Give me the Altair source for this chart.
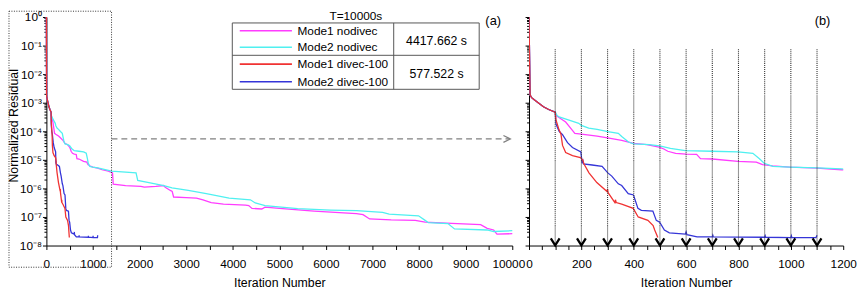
import json
import altair as alt
import pandas as pd

FONT = "Liberation Sans"

# ---------------- data ----------------
SERIES = ["Mode1 nodivec", "Mode2 nodivec", "Mode1 divec-100", "Mode2 divec-100"]
COLORS = ["#ff3cff", "#4ff0f0", "#f03232", "#3535d8"]
TIMES = ["4417.662 s", "577.522 s"]
LEGEND_TITLE = "T=10000s"
PANEL_TAGS = ["(a)", "(b)"]
X_TITLE = "Iteration Number"
Y_TITLE = "Normalized Residual"

# common start of all four runs
common_it = [0, 4, 10, 20, 35, 55, 75, 100]
common_res = [1.0, 1.9e-3, 1.5e-3, 1.26e-3, 1.0e-3, 7.2e-4, 5.8e-4, 4.7e-4]

m1_nodivec_it = [105, 120, 140, 165, 175, 200, 260, 300, 354, 399,
                 450, 497, 515, 530, 560, 600, 640, 655, 700, 798,
                 868, 892, 930, 996, 1100, 1194, 1330, 1420, 1434, 1700,
                 2029, 2100, 2350, 2517, 2550, 2660, 2700, 2730, 3000, 3221,
                 3361, 3537, 3800, 4273, 4343, 4413, 4623, 4693, 5000, 5745,
                 6200, 6656, 6797, 6937, 7400, 7918, 8129, 8700, 9321, 9461,
                 9600, 9671, 10000]
m1_nodivec_res = [3.5e-4, 2.8e-4, 2.1e-4, 1.1e-4, 8.5e-5, 7.9e-5, 6.8e-5, 5.9e-5, 4.8e-5, 3.8e-5,
                  3.4e-5, 2.8e-5, 2.4e-5, 2.0e-5, 1.7e-5, 1.6e-5, 1.55e-5, 1.1e-5, 1.07e-5, 8.9e-6,
                  8.3e-6, 6.8e-6, 6.2e-6, 5.6e-6, 5.1e-6, 4.5e-6, 4.0e-6, 3.5e-6, 1.4e-6, 1.26e-6,
                  1.17e-6, 1.1e-6, 1.17e-6, 1.26e-6, 1.1e-6, 8.5e-7, 7.9e-7, 5.0e-7, 4.8e-7, 4.6e-7,
                  4.0e-7, 3.2e-7, 2.8e-7, 2.6e-7, 2.5e-7, 2.0e-7, 1.9e-7, 2.2e-7, 2.0e-7, 1.6e-7,
                  1.45e-7, 1.3e-7, 1.2e-7, 8.5e-8, 7.9e-8, 7.6e-8, 6.6e-8, 6.0e-8, 5.4e-8, 4.0e-8,
                  3.5e-8, 2.5e-8, 2.6e-8]

m2_nodivec_it = [108, 115, 150, 190, 200, 228, 260, 301, 341, 354,
                 380, 399, 460, 499, 540, 597, 697, 798, 855, 880,
                 898, 931, 996, 1100, 1194, 1398, 1924, 1960, 2200, 2520,
                 2696, 3045, 3432, 3922, 4378, 4483, 4693, 5394, 6095, 6656,
                 7217, 7357, 7988, 8129, 8199, 8619, 8760, 9461, 9601, 10000]
m2_nodivec_res = [3.5e-4, 3.2e-4, 2.5e-4, 1.9e-4, 1.6e-4, 1.3e-4, 1.17e-4, 9.8e-5, 8.5e-5, 6.6e-5,
                  4.2e-5, 3.6e-5, 3.4e-5, 3.1e-5, 2.5e-5, 2.1e-5, 2.0e-5, 1.9e-5, 1.7e-5, 1.1e-5,
                  7.6e-6, 5.9e-6, 5.6e-6, 5.2e-6, 4.8e-6, 4.0e-6, 3.5e-6, 1.9e-6, 1.6e-6, 1.26e-6,
                  1.05e-6, 8.5e-7, 6.6e-7, 4.6e-7, 4.0e-7, 3.1e-7, 2.5e-7, 1.95e-7, 1.74e-7, 1.66e-7,
                  1.45e-7, 1.26e-7, 1.1e-7, 7.6e-8, 6.3e-8, 5.9e-8, 3.8e-8, 3.5e-8, 3.1e-8, 3.3e-8]

m1_divec_it = [103, 115, 122, 128, 140, 166, 196, 205, 210, 229,
               259, 297, 300, 302, 328, 330, 333, 354, 398, 417,
               454, 474, 480, 492]
m1_divec_res = [2.5e-4, 1.1e-4, 7.9e-5, 3.2e-5, 1.8e-5, 1.4e-5, 1.2e-5, 1.0e-5, 7.1e-6, 3.5e-6,
                1.6e-6, 7.9e-7, 9.5e-7, 7.1e-7, 3.2e-7, 4.0e-7, 3.2e-7, 2.8e-7, 2.0e-7, 1.0e-7,
                7.6e-8, 5.0e-8, 3.5e-8, 1.9e-8]

m2_divec_it = [103, 115, 128, 147, 166, 198, 203, 206, 208, 241,
               279, 301, 316, 341, 354, 379, 399, 416, 429, 473,
               486, 499, 517, 536, 597, 600, 603, 642, 700, 702,
               704, 900, 902, 904, 1000, 1002, 1004, 1096, 1100]
m2_divec_res = [1.8e-4, 1.0e-4, 7.6e-5, 4.0e-5, 2.7e-5, 1.9e-5, 7.6e-6, 9.1e-6, 7.2e-6, 6.6e-6,
                5.9e-6, 3.5e-6, 2.7e-6, 1.45e-6, 1.26e-6, 6.6e-7, 5.9e-7, 2.0e-7, 1.7e-7, 1.6e-7,
                7.6e-8, 6.6e-8, 3.5e-8, 2.8e-8, 2.5e-8, 3.0e-8, 2.4e-8, 2.0e-8, 2.0e-8, 2.3e-8,
                2.0e-8, 1.95e-8, 2.2e-8, 1.95e-8, 1.9e-8, 2.2e-8, 1.9e-8, 1.9e-8, 2.3e-8]

marker_iters = [100, 200, 300, 400, 500, 600, 700, 800, 900, 1000, 1100]

# ---------------- tables ----------------
runs = {
    SERIES[0]: (m1_nodivec_it, m1_nodivec_res),
    SERIES[1]: (m2_nodivec_it, m2_nodivec_res),
    SERIES[2]: (m1_divec_it, m1_divec_res),
    SERIES[3]: (m2_divec_it, m2_divec_res),
}
rows = []
for name, (its, res) in runs.items():
    for i, r in zip(common_it + its, common_res + res):
        rows.append({"series": name, "iter": i, "res": r})
df = pd.DataFrame(rows)

# ---------------- layout ----------------
W1, W2, H = 473, 319, 232
XL = alt.Scale(domain=[0, 10000], nice=False, zero=False)
XR = alt.Scale(domain=[0, 1200], nice=False, zero=False)
YS = alt.Scale(type="log", domain=[1e-8, 1], nice=False)
CS = alt.Scale(domain=SERIES, range=COLORS)

major_y = "abs(log(datum.value)/LN10 - round(log(datum.value)/LN10)) < 0.001"
sup = ["10\u2070", "10\u207b\u00b9", "10\u207b\u00b2", "10\u207b\u00b3", "10\u207b\u2074",
       "10\u207b\u2075", "10\u207b\u2076", "10\u207b\u2077", "10\u207b\u2078"]
y_label_expr = f"{major_y} ? {json.dumps(sup, ensure_ascii=False)}[-round(log(datum.value)/LN10)] : ''"
y_ticks = sorted([m * 10.0 ** e for e in range(-8, 0) for m in range(1, 10)] + [1.0])
y_tick_size = {"condition": {"test": major_y, "value": 4}, "value": 2.5}

axis_yL = alt.Axis(values=y_ticks, labelExpr=y_label_expr, tickSize=y_tick_size, labelOverlap=False,
                   labelFontSize=12, labelPadding=1, title=Y_TITLE, titleX=-26, titleY=H / 2 - 6,
                   grid=False)
axis_yR = alt.Axis(values=y_ticks, labels=False, tickSize=y_tick_size, title=None, grid=False)
axis_xL = alt.Axis(values=list(range(0, 10001, 500)),
                   labelExpr="datum.value % 1000 == 0 ? format(datum.value, 'd') : ''",
                   labelOffset={"condition": {"test": "datum.value == 10000", "value": -4}, "value": 0},
                   tickSize=4, labelFlush=False, labelOverlap=False, labelPadding=9,
                   title=X_TITLE, titlePadding=8, grid=False)
axis_xR = alt.Axis(values=list(range(0, 1201, 50)),
                   labelExpr="datum.value % 200 == 0 ? format(datum.value, 'd') : ''",
                   tickSize=4, labelFlush=False, labelOverlap=False, labelPadding=9,
                   title=X_TITLE, titlePadding=8, grid=False)

draw_order = [SERIES[0], SERIES[1], SERIES[3], SERIES[2]]


def line_layers(xscale, xaxis, yaxis, clip):
    layers = []
    for name in draw_order:
        layers.append(
            alt.Chart(df).transform_filter(alt.datum.series == name)
            .mark_line(strokeWidth=1.3, clip=clip)
            .encode(
                x=alt.X("iter:Q", scale=xscale, axis=xaxis),
                y=alt.Y("res:Q", scale=YS, axis=yaxis),
                color=alt.Color("series:N", scale=CS, legend=None),
            )
        )
    return layers


# ---- left panel decorations (data coordinates) ----
leg_rows = pd.DataFrame({"series": SERIES, "y": [0.33, 0.088, 0.0225, 0.0054],
                         "x1": 4150, "x2": 5270, "xt": 5390})
leg_box = pd.DataFrame({"x": [3990], "x2": [9290], "y": [0.62], "y2": [2.95e-3]})
leg_vdiv = pd.DataFrame({"x": [7455], "y": [0.62], "y2": [2.95e-3]})
leg_hdiv = pd.DataFrame({"x": [3990], "x2": [9290], "y": [0.0457]})
leg_times = pd.DataFrame({"x": [8374, 8374], "y": [0.14, 0.0098], "t": TIMES})
leg_title = pd.DataFrame({"x": [6642], "y": [1.07], "t": [LEGEND_TITLE]})
tag_a = pd.DataFrame({"x": [9590], "y": [0.71], "t": [PANEL_TAGS[0]]})
arrow = pd.DataFrame({"x": [1398], "x2": [9930], "y": [5.4e-5]})
arrow_tip = pd.DataFrame({"x": [9958], "y": [5.4e-5]})
zoom_box = pd.DataFrame({"x": [-38 * 10000 / W1], "x2": [1398], "y": [1.6], "y2": [1.74e-9]})


def enc(xs, xa, ya, xf="x:Q", yf="y:Q"):
    return dict(x=alt.X(xf, scale=xs, axis=xa), y=alt.Y(yf, scale=YS, axis=ya))


L = (XL, axis_xL, axis_yL)
R = (XR, axis_xR, axis_yR)

left_layers = line_layers(XL, axis_xL, axis_yL, False) + [
    alt.Chart(leg_box).mark_rect(fillOpacity=0, stroke="#555555", strokeWidth=1)
    .encode(x2="x2:Q", y2="y2:Q", **enc(*L)),
    alt.Chart(leg_vdiv).mark_rule(color="#555555", strokeWidth=1)
    .encode(y2="y2:Q", **enc(*L)),
    alt.Chart(leg_hdiv).mark_rule(color="#555555", strokeWidth=1)
    .encode(x2="x2:Q", **enc(*L)),
    alt.Chart(leg_rows).mark_rule(strokeWidth=1.6)
    .encode(x2="x2:Q", color=alt.Color("series:N", scale=CS, legend=None), **enc(*L, xf="x1:Q")),
    alt.Chart(leg_rows).mark_text(align="left", baseline="middle", font=FONT, fontSize=12, color="black")
    .encode(text="series:N", **enc(*L, xf="xt:Q")),
    alt.Chart(leg_times).mark_text(align="center", baseline="middle", font=FONT, fontSize=12.5, color="black")
    .encode(text="t:N", **enc(*L)),
    alt.Chart(leg_title).mark_text(align="center", baseline="middle", font=FONT, fontSize=12, color="black")
    .encode(text="t:N", **enc(*L)),
    alt.Chart(tag_a).mark_text(align="center", baseline="middle", font=FONT, fontSize=13, color="black")
    .encode(text="t:N", **enc(*L)),
    alt.Chart(arrow).mark_rule(color="#808080", strokeWidth=1.3, strokeDash=[6, 4])
    .encode(x2="x2:Q", **enc(*L)),
    alt.Chart(arrow_tip).mark_point(shape="M-1,-0.5L0,0L-1,0.5", size=196, filled=False,
                                    color="#808080", strokeWidth=1.3, opacity=1)
    .encode(**enc(*L)),
    alt.Chart(zoom_box).mark_rect(fillOpacity=0, stroke="#333333", strokeWidth=1,
                                  strokeDash=[1, 1.5], clip=False)
    .encode(x2="x2:Q", y2="y2:Q", **enc(*L)),
]
left = alt.layer(*left_layers).properties(width=W1, height=H)

# ---- right panel ----
mk = pd.DataFrame({"x": marker_iters, "y": 0.074, "y2": 1.2e-8, "yc": 1.35e-8})
tag_b = pd.DataFrame({"x": [1121], "y": [0.71], "t": [PANEL_TAGS[1]]})

right_layers = line_layers(XR, axis_xR, axis_yR, True) + [
    alt.Chart(mk).mark_rule(color="#333333", strokeWidth=1.1, strokeDash=[1, 1])
    .encode(y2="y2:Q", **enc(*R)),
    alt.Chart(mk).mark_point(shape="M-1,-0.8L0,0.8L1,-0.8", size=80, filled=False,
                             color="black", strokeWidth=2.3, opacity=1)
    .encode(**enc(*R, yf="yc:Q")),
    alt.Chart(tag_b).mark_text(align="center", baseline="middle", font=FONT, fontSize=13, color="black")
    .encode(text="t:N", **enc(*R)),
]
right = alt.layer(*right_layers).properties(width=W2, height=H)

chart = (
    alt.hconcat(left, right, spacing=17, bounds="flush")
    .properties(padding={"left": 0, "top": 0, "right": 0, "bottom": 0})
    .configure_view(stroke=None)
    .configure_axis(domainColor="black", tickColor="black", labelColor="black", titleColor="black",
                    labelFont=FONT, titleFont=FONT, labelFontSize=12, titleFontSize=12.5,
                    titleFontWeight="normal", domainWidth=1, tickWidth=1)
)

chart.save("out.html", embed_options={"renderer": "svg", "actions": False})
